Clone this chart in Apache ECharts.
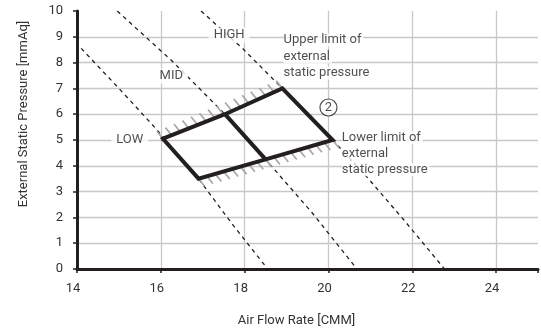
<!DOCTYPE html>
<html><head><meta charset="utf-8">
<script src="https://cdn.jsdelivr.net/npm/echarts@6/dist/echarts.min.js"></script>
<style>html,body{margin:0;padding:0;background:#fff}#c{width:541px;height:336px}</style>
</head><body><div id="c"></div>
<script>
// Axis ranges / ticks
const xMin = 14, xMax = 25, xStep = 2;
const yMin = 0, yMax = 10, yStep = 1;
const xTitle = 'Air Flow Rate [CMM]';
const yTitle = 'External Static Pressure [mmAq]';

// Fan curves (dashed)
const lowCurve  = [[14.1,8.55],[15.0,7.0],[15.85,5.5],[16.9,3.5],[17.7,1.75],[18.55,0]];
const midCurve  = [[14.96,10.0],[16.25,8.09],[17.53,6.0],[18.5,4.25],[19.6,2.2],[20.68,0]];
const highCurve = [[16.96,10.0],[17.95,8.55],[18.9,7.0],[20.1,5.0],[20.91,3.58],[21.8,1.9],[22.77,0]];

// Operating range polygon
const rangeOutline = [[16.05,5.05],[17.53,6.0],[18.9,7.0],[20.1,5.0],[18.5,4.25],[16.9,3.5],[16.05,5.05]];
const rangeDivider = [[17.53,6.0],[18.5,4.25]];
// Hatched limit edges: [x1,y1,x2,y2,side]  side -1 = above (upper limit), +1 = below (lower limit)
const limitEdges = [[16.05,5.05,18.9,7.0,-1],[16.9,3.5,20.1,5.0,1]];

// Annotations
const curveNames = ['HIGH','MID','LOW'];
const curveNamePos = [[17.63,9.07],[16.25,7.48],[15.26,5.0]];
const upperText = ['Upper limit of','external','static pressure'];
const upperPos = [18.93,9.19];
const lowerText = ['Lower limit of','external','static pressure'];
const lowerPos = [20.32,5.4];
const markerText = '2';
const markerPos = [20.0,6.26];

const INK = '#231f20';
const FONT = 'Roboto';

const chart = echarts.init(document.getElementById('c'), null, {renderer:'canvas'});

function dashed(data){
  return {type:'line', data:data, symbol:'none', silent:true, z:3,
    lineStyle:{color:INK, width:1.3, type:[4,4]}};
}
function richBlock(lines){
  return lines.map(l => '{a|' + l + '}').join('\n');
}

const option = {
  animation:false,
  textStyle:{fontFamily:FONT},
  grid:{left:77, right:0, top:11, bottom:67, containLabel:false},
  xAxis:{
    type:'value', min:xMin, max:xMax, interval:xStep,
    name:xTitle, nameLocation:'middle', nameGap:45,
    nameTextStyle:{fontSize:13, color:'#333', fontFamily:FONT, padding:[0,22,0,0]},
    axisLine:{show:true, onZero:false, lineStyle:{color:INK, width:3}},
    axisTick:{show:true, length:4, lineStyle:{color:INK, width:1.5}},
    axisLabel:{fontSize:13, color:'#333', margin:13, fontFamily:FONT, padding:[0,8,0,0],
      formatter:v => (v % xStep === 0 ? String(v) : '')},
    splitLine:{show:true, showMinLine:false, showMaxLine:false, lineStyle:{color:'#c8c8c8', width:1.3}}
  },
  yAxis:{
    type:'value', min:yMin, max:yMax, interval:yStep,
    name:yTitle, nameLocation:'middle', nameGap:47,
    nameTextStyle:{fontSize:13, color:'#333', fontFamily:FONT, padding:[0,0,0,52]},
    axisLine:{show:true, lineStyle:{color:INK, width:3}},
    axisTick:{show:true, length:4, lineStyle:{color:INK, width:1.5}},
    axisLabel:{fontSize:13, color:'#333', margin:14, fontFamily:FONT},
    splitLine:{show:true, showMinLine:false, showMaxLine:false, lineStyle:{color:'#c8c8c8', width:1.3}}
  },
  series:[
    dashed(lowCurve), dashed(midCurve), dashed(highCurve),
    {
      type:'custom', silent:true, z:4,
      data:limitEdges,
      encode:{x:[0,2], y:[1,3]},
      renderItem:function(params, api){
        const p1 = api.coord([api.value(0), api.value(1)]);
        const p2 = api.coord([api.value(2), api.value(3)]);
        const side = api.value(4);
        const dx = p2[0]-p1[0], dy = p2[1]-p1[1];
        const n = Math.max(1, Math.round(Math.abs(dx)/8.3));
        const children = [];
        for (let i=0;i<=n;i++){
          const t=i/n;
          const x=p1[0]+dx*t, y=p1[1]+dy*t;
          children.push({type:'line', shape:{x1:x, y1:y, x2:x+side*6, y2:y+side*7.5},
            style:{stroke:'#a8a8a8', lineWidth:1.7}});
        }
        return {type:'group', children:children};
      }
    },
    {type:'line', data:rangeOutline, symbol:'none', silent:true, z:5,
      lineStyle:{color:INK, width:4, join:'miter', cap:'square'}},
    {type:'line', data:rangeDivider, symbol:'none', silent:true, z:5,
      lineStyle:{color:INK, width:4, cap:'butt'}},
    {
      type:'scatter', silent:true, z:10, symbolSize:0,
      data:[
        ...curveNames.map((t,i) => ({value:curveNamePos[i], label:{show:true, formatter:t, position:'inside',
          align:'center', verticalAlign:'middle', fontSize:13, color:INK, fontFamily:FONT,
          backgroundColor:'#fff', padding:[1,5,1,5]}})),
        {value:upperPos, label:{show:true, formatter:richBlock(upperText), position:[0,0],
          align:'left', verticalAlign:'top', color:INK,
          rich:{a:{fontSize:13, lineHeight:16.5, color:INK, fontFamily:FONT, backgroundColor:'#fff', padding:[0,2,0,0]}}}},
        {value:lowerPos, label:{show:true, formatter:richBlock(lowerText), position:[0,0],
          align:'left', verticalAlign:'top', color:INK,
          rich:{a:{fontSize:13, lineHeight:16, color:INK, fontFamily:FONT, backgroundColor:'#fff', padding:[0,2,0,0]}}}}
      ]
    },
    {
      type:'scatter', silent:true, z:11, symbol:'circle', symbolSize:17,
      itemStyle:{color:'#fff', borderColor:INK, borderWidth:1.2},
      data:[{value:markerPos, label:{show:true, formatter:markerText, position:'inside',
        fontSize:13, color:INK, fontFamily:FONT}}]
    }
  ]
};
chart.setOption(option);
</script>
</body></html>
